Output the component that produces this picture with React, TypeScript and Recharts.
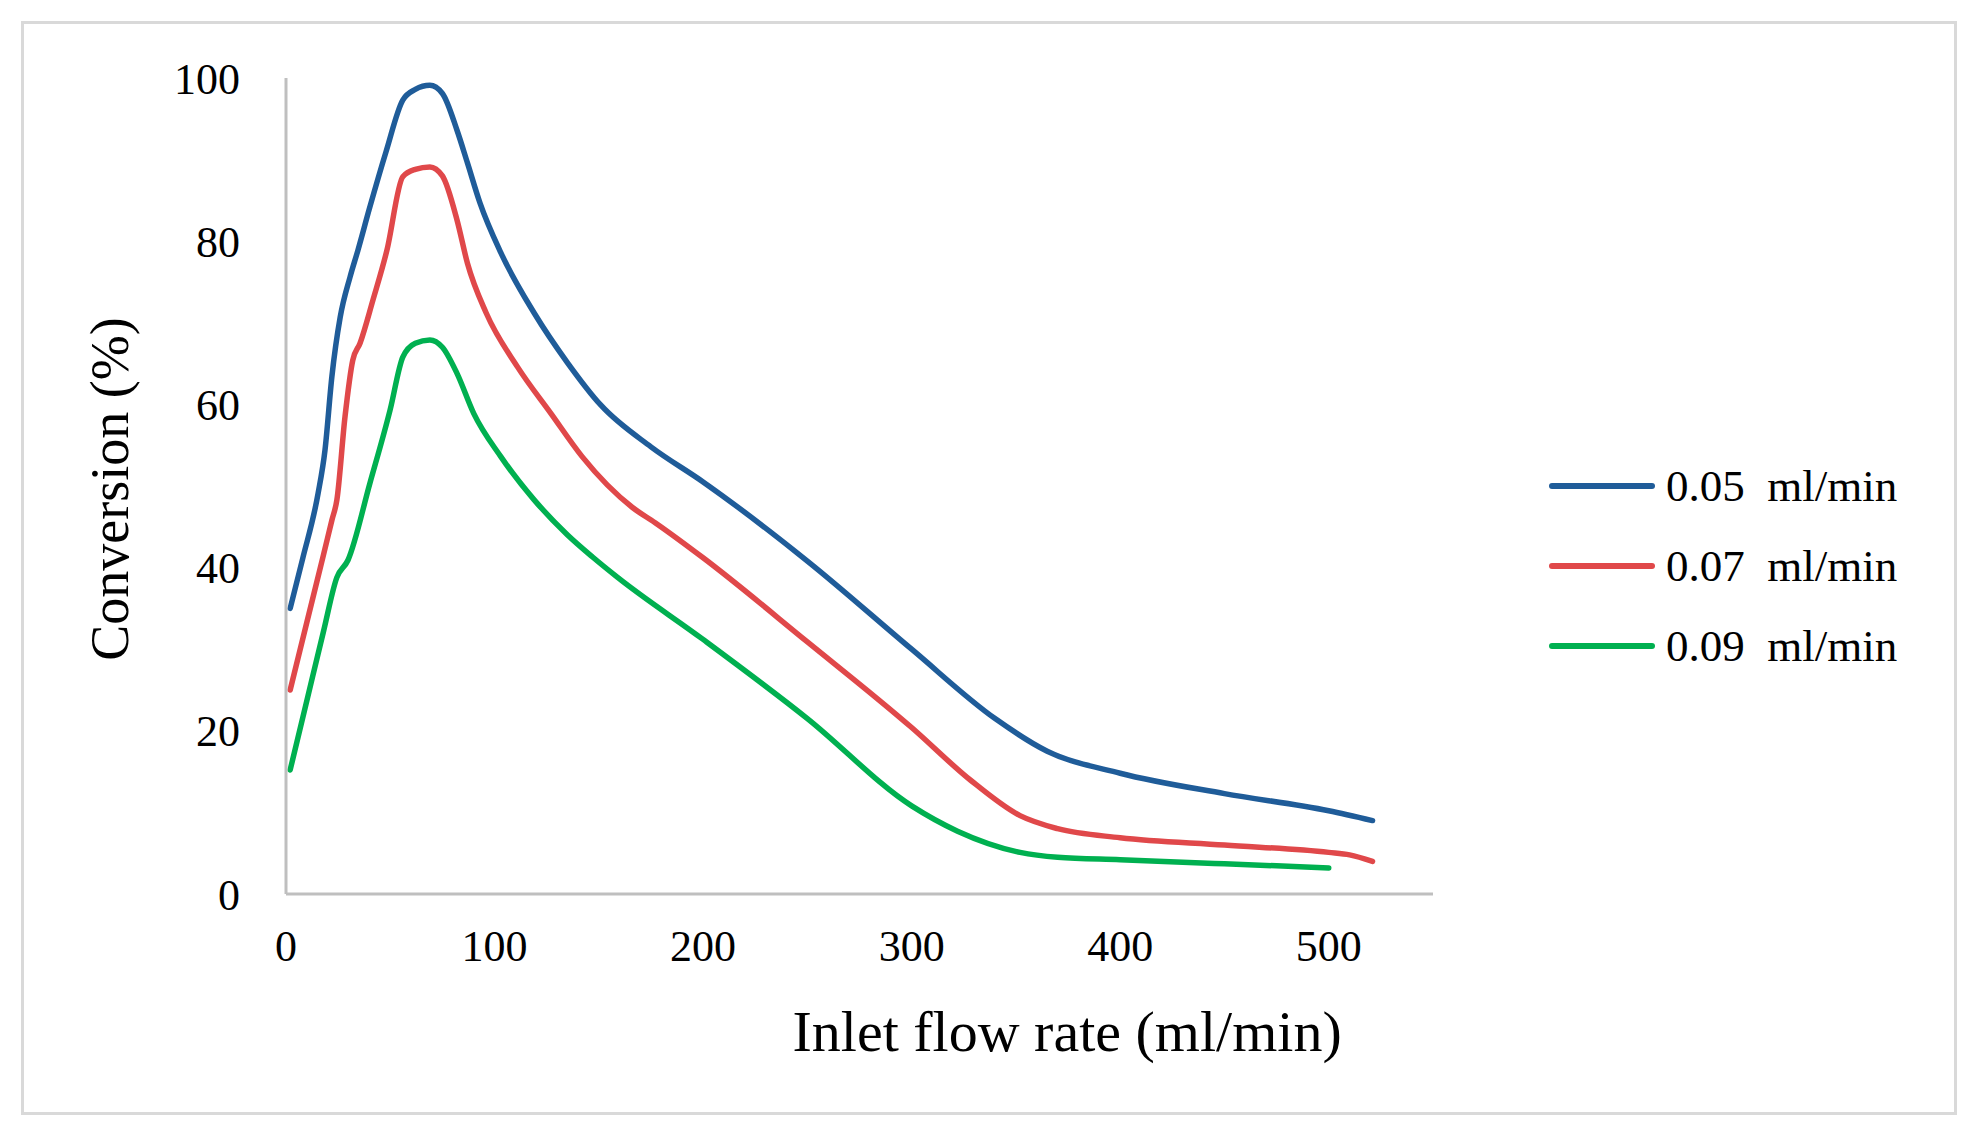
import { LineChart, Line, XAxis, YAxis, Legend, Label } from 'recharts'

// flow rate (ml/min) and conversion (%)
const flowA = [2, 8, 15.4, 18.7, 22, 26, 30.7, 34.5, 40, 48, 56, 62, 69, 75, 82, 87, 93, 103, 119, 135, 151, 175, 200, 250, 300, 340, 365, 400, 450, 500, 521]
const convA = [35, 41.1, 49.1, 54.4, 63.4, 70.7, 75.6, 78.9, 84, 91, 97.3, 98.6, 99.1, 98.1, 93.6, 89.6, 84.7, 78.6, 71.2, 65.1, 59.9, 54.8, 50.5, 40.8, 30, 21.5, 17.5, 14.8, 12.3, 10.2, 9]

const flowB = [2, 10, 18, 22, 24.4, 28.3, 32, 35.5, 41.7, 48.4, 56, 62, 69, 75, 82, 87, 96, 111, 127, 142, 166, 177, 200, 250, 300, 328, 352, 370, 400, 450, 500, 510, 521]
const convB = [25, 33.3, 41.6, 45.8, 48.3, 58.5, 65.4, 67.5, 72.8, 78.9, 87.9, 88.8, 89.1, 88, 82.6, 77.3, 71.2, 64.6, 58.9, 53.6, 47.4, 45.5, 41.2, 30.9, 20.4, 14, 9.6, 8, 6.9, 6, 5.1, 4.8, 4]

const flowC = [2, 10, 18, 24.4, 29.7, 40.3, 49.9, 56, 62, 69, 75, 82, 90, 103, 119, 135, 147, 159, 200, 250, 300, 322, 352, 370, 400, 450, 500]
const convC = [15.2, 23.7, 32.2, 38.8, 40.9, 50.4, 59.3, 65.8, 67.5, 67.9, 67, 63.8, 58.9, 53.6, 48.3, 44, 41.3, 38.8, 31.2, 21.5, 10.8, 7.7, 5.1, 4.5, 4.2, 3.7, 3.2]

const xTicks = [0, 100, 200, 300, 400, 500]
const yTicks = [0, 20, 40, 60, 80, 100]

const seriesNames = ['0.05 ml/min', '0.07 ml/min', '0.09 ml/min']
const seriesColors = ['#1f5c99', '#e0484a', '#00b050']

const toPoints = (xs: number[], ys: number[]) => xs.map((x, i) => ({ x, y: ys[i] }))
const seriesData = [toPoints(flowA, convA), toPoints(flowB, convB), toPoints(flowC, convC)]

const FONT = '"Liberation Serif", "Times New Roman", serif'
const AXIS_GRAY = '#bfbfbf'

function XTitle({ viewBox }: any) {
  if (!viewBox) return null
  return (
    <text
      x={viewBox.x + viewBox.width * 0.681}
      y={viewBox.y + 157}
      textAnchor="middle"
      fontFamily={FONT}
      fontSize={58}
      fill="#000"
    >
      Inlet flow rate (ml/min)
    </text>
  )
}

function YTitle({ viewBox }: any) {
  if (!viewBox) return null
  const x = viewBox.x - 58
  const y = viewBox.y + viewBox.height / 2 + 3
  return (
    <text
      x={x}
      y={y}
      textAnchor="middle"
      transform={`rotate(-90, ${x}, ${y})`}
      fontFamily={FONT}
      fontSize={54}
      fill="#000"
    >
      Conversion (%)
    </text>
  )
}

function LegendBox() {
  return (
    <div style={{ fontFamily: FONT }}>
      {seriesNames.map((name, i) => (
        <div key={name} style={{ display: 'flex', alignItems: 'center', height: 80 }}>
          <svg width={108} height={12} style={{ display: 'block' }}>
            <line x1={4} y1={6} x2={104} y2={6} stroke={seriesColors[i]} strokeWidth={6} strokeLinecap="round" />
          </svg>
          <span style={{ marginLeft: 10, fontSize: 45, color: '#000', whiteSpace: 'pre' }}>
            {name.replace(' ', '  ')}
          </span>
        </div>
      ))}
    </div>
  )
}

export default function App() {
  return (
    <div style={{ position: 'absolute', left: 0, top: 0, width: 1974, height: 1135, background: '#fff' }}>
      <div
        style={{
          position: 'absolute',
          left: 21,
          top: 21,
          width: 1930,
          height: 1088,
          border: '3px solid #d9d9d9',
        }}
      />
      <LineChart width={1974} height={1135} margin={{ top: 78, right: 541, bottom: 181, left: 186 }}>
        <XAxis
          type="number"
          dataKey="x"
          domain={[0, 550]}
          ticks={xTicks}
          allowDataOverflow
          height={60}
          axisLine={{ stroke: AXIS_GRAY, strokeWidth: 3 }}
          tickLine={false}
          tickSize={0}
          tickMargin={36}
          tick={{ fill: '#000', fontSize: 44, fontFamily: FONT }}
        >
          <Label content={<XTitle />} />
        </XAxis>
        <YAxis
          type="number"
          domain={[0, 100]}
          ticks={yTicks}
          width={100}
          axisLine={{ stroke: AXIS_GRAY, strokeWidth: 3 }}
          tickLine={false}
          tickSize={0}
          tickMargin={46}
          tick={{ fill: '#000', fontSize: 44, fontFamily: FONT }}
        >
          <Label content={<YTitle />} />
        </YAxis>
        <Legend
          layout="vertical"
          align="center"
          verticalAlign="middle"
          content={<LegendBox />}
          wrapperStyle={{ left: 1548, top: 446, width: 400 }}
        />
        {seriesData.map((d, i) => (
          <Line
            key={seriesNames[i]}
            data={d}
            dataKey="y"
            name={seriesNames[i]}
            type="monotone"
            stroke={seriesColors[i]}
            strokeWidth={5.5}
            strokeLinecap="round"
            dot={false}
            activeDot={false}
            isAnimationActive={false}
          />
        ))}
      </LineChart>
    </div>
  )
}
